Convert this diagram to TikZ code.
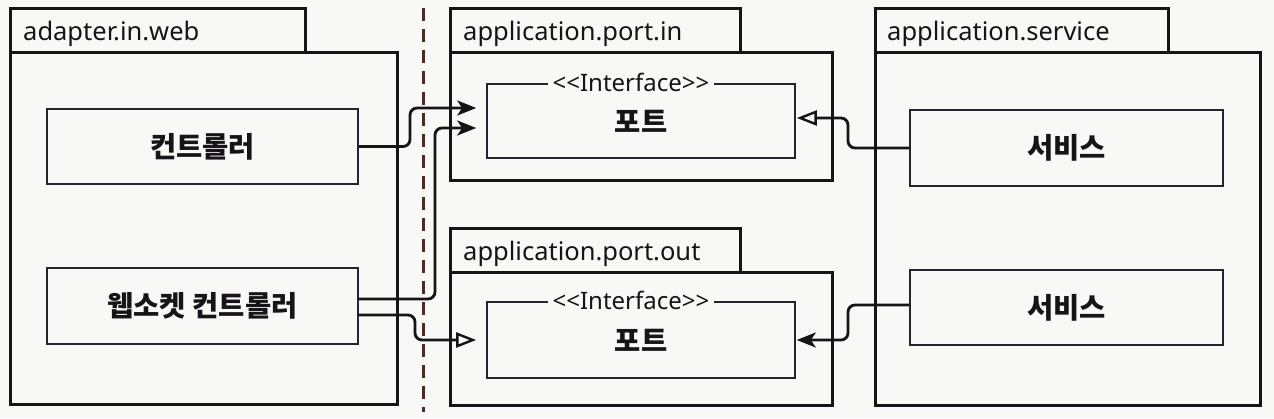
\documentclass[tikz,border=0pt]{standalone}
\usepackage{fontspec}
\setmainfont{Noto Sans}
\newfontfamily\kr{Noto Sans CJK KR}
\usetikzlibrary{arrows.meta}
\definecolor{bg}{RGB}{248,248,246}
\definecolor{ink}{RGB}{22,20,24}
\definecolor{boxc}{RGB}{40,34,44}
\definecolor{dashc}{RGB}{72,42,42}
\begin{document}
\begin{tikzpicture}[x=1pt,y=-1pt,
  pkg/.style={draw=ink,line width=3pt,fill=bg,rectangle,inner sep=0pt},
  pkglabel/.style={inner sep=0pt,font=\fontsize{25.5}{30}\selectfont,text=ink},
  cls/.style={draw=boxc,line width=1.6pt,fill=bg,rectangle,inner sep=0pt,
    minimum height=75pt,font=\kr\bfseries\fontsize{28.5}{32}\selectfont,text=ink},
  stereo/.style={fill=bg,inner xsep=5pt,inner ysep=0pt,font=\fontsize{24}{28}\selectfont,text=ink},
  conn/.style={draw=ink,line width=2.8pt,rounded corners=7pt},
  usearrow/.style={-{Stealth[length=19pt,width=15pt,inset=5pt]}},
  implarrow/.style={-{Triangle[open,length=20pt,width=15pt,fill=bg,line width=2.4pt]}},
  sep/.style={draw=dashc,line width=3pt,dash pattern=on 13pt off 8pt}
]
\fill[bg] (0,0) rectangle (1274,418);
\useasboundingbox (0,0) rectangle (1274,418);

% separator
\coordinate (septop) at (423,8);
\coordinate (sepbot) at (423,412);
\draw[sep] (septop) -- (sepbot);

% adapter.in.web
\node[pkg,minimum width=295pt,minimum height=44pt] (webtab) at (157.5,30) {};
\node[pkg,minimum width=387pt,minimum height=352pt] (web) at (203.5,228) {};
\node[pkglabel,anchor=base west] (weblbl) at (23,40) {adapter.in.web};
\node[cls,minimum width=311pt] (ctrl) at (202.5,146.5) {컨트롤러};
\node[cls,minimum width=311pt,minimum height=76pt] (ws) at (202.5,306) {웹소켓 컨트롤러};

% application.port.in
\node[pkg,minimum width=290pt,minimum height=44pt] (pintab) at (595,30) {};
\node[pkg,minimum width=382pt,minimum height=128pt] (pinpkg) at (641,116) {};
\node[pkglabel,anchor=base west] (pinlbl) at (463,40) {application.port.in};
\node[cls,minimum width=308pt,minimum height=74pt] (pin) at (641,121) {\raisebox{-4pt}{포트}};
\node[stereo] (pinst) at (631,82) {{<}{<}Interface{>}{>}};

% application.port.out
\node[pkg,minimum width=290pt,minimum height=44pt] (pouttab) at (595,250) {};
\node[pkg,minimum width=382pt,minimum height=133pt] (poutpkg) at (641,338.5) {};
\node[pkglabel,anchor=base west] (poutlbl) at (463,260) {application.port.out};
\node[cls,minimum width=308pt,minimum height=76pt] (pout) at (641,340) {\raisebox{-4pt}{포트}};
\node[stereo] (poutst) at (631,300) {{<}{<}Interface{>}{>}};

% application.service
\node[pkg,minimum width=293pt,minimum height=44pt] (svctab) at (1021.5,30) {};
\node[pkg,minimum width=385pt,minimum height=353pt] (svc) at (1067.5,228.5) {};
\node[pkglabel,anchor=base west] (svclbl) at (887,40) {application.service};
\node[cls,minimum width=313pt,minimum height=76pt] (svc1) at (1066.5,148) {서비스};
\node[cls,minimum width=313pt,minimum height=75pt] (svc2) at (1066.5,307.5) {서비스};

% connectors
\draw[conn,usearrow] (ctrl.east) -- (410,146.5) |- ([xshift=-10pt,yshift=13pt]pin.west);
\draw[conn,usearrow] ([yshift=7pt]ws.east) -- (435,299) |- ([xshift=-10pt,yshift=-7pt]pin.west);
\draw[conn,implarrow] ([yshift=-9pt]ws.east) -- (415,315) |- ([xshift=-10pt]pout.west);
\draw[conn,implarrow] (svc1.west) -- (848,148) |- ([xshift=1pt,yshift=3pt]pin.east);
\draw[conn,usearrow] ([yshift=2.5pt]svc2.west) -- (848,305) |- ([xshift=1pt]pout.east);
\end{tikzpicture}
\end{document}
